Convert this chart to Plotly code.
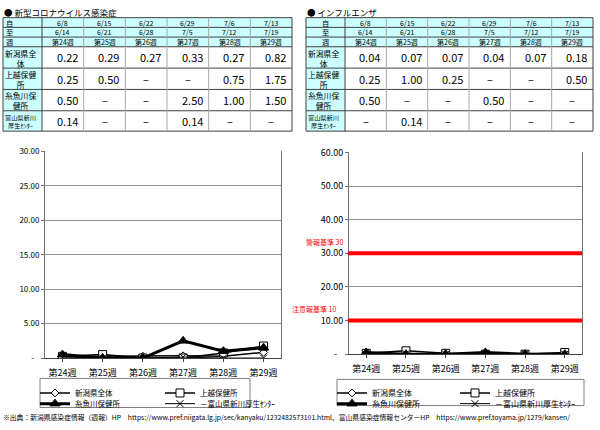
import plotly.graph_objects as go

W, H = 600, 430
FONT = "Noto Sans CJK JP"

# ---------------- data ----------------
weeks = ["第24週", "第25週", "第26週", "第27週", "第28週", "第29週"]
start_dates = ["6/8", "6/15", "6/22", "6/29", "7/6", "7/13"]
end_dates = ["6/14", "6/21", "6/28", "7/5", "7/12", "7/19"]
series_names = ["新潟県全体", "上越保健所", "糸魚川保健所", "富山県新川厚生センター"]
legend_names = ["新潟県全体", "上越保健所", "糸魚川保健所", "－富山県新川厚生ｾﾝﾀｰ"]
row_labels = ["新潟県全<br>体", "上越保健<br>所", "糸魚川保<br>健所", "富山県新川<br>厚生ｾﾝﾀｰ"]

covid_niigata = [0.22, 0.29, 0.27, 0.33, 0.27, 0.82]
covid_joetsu = [0.25, 0.50, None, None, 0.75, 1.75]
covid_itoigawa = [0.50, None, None, 2.50, 1.00, 1.50]
covid_toyama = [0.14, None, None, 0.14, None, None]

flu_niigata = [0.04, 0.07, 0.07, 0.04, 0.07, 0.18]
flu_joetsu = [0.25, 1.00, 0.25, None, None, 0.50]
flu_itoigawa = [0.50, None, None, 0.50, None, None]
flu_toyama = [None, 0.14, None, None, None, None]

flu_warning = 30
flu_advisory = 10

covid_title = "● 新型コロナウイルス感染症"
flu_title = "● インフルエンザ"
source_note = ("※出典：新潟県感染症情報（週報）HP　https://www.pref.niigata.lg.jp/sec/kanyaku/1232482573101.html、"
               "富山県感染症情報センターHP　https://www.pref.toyama.jp/1279/kansen/")

# ---------------- helpers ----------------
def fx(px):
    return px / W

def fy(py):
    return 1 - py / H

shapes = []
annotations = []

def hline(x0, x1, y, color, width=1):
    shapes.append(dict(type="line", xref="paper", yref="paper", x0=fx(x0), x1=fx(x1),
                       y0=fy(y), y1=fy(y), line=dict(color=color, width=width), layer="above"))

def vline(x, y0, y1, color, width=1):
    shapes.append(dict(type="line", xref="paper", yref="paper", x0=fx(x), x1=fx(x),
                       y0=fy(y0), y1=fy(y1), line=dict(color=color, width=width), layer="above"))

def rect(x0, y0, x1, y1, fill, line=None):
    shapes.append(dict(type="rect", xref="paper", yref="paper", x0=fx(x0), x1=fx(x1),
                       y0=fy(y0), y1=fy(y1), fillcolor=fill,
                       line=dict(width=0) if line is None else dict(color=line, width=1),
                       layer="below"))

def text(x, y, s, size, anchor="center", color="black"):
    annotations.append(dict(xref="paper", yref="paper", x=fx(x), y=fy(y), text=s,
                            showarrow=False, xanchor=anchor, yanchor="middle",
                            font=dict(family=FONT, size=size, color=color), borderpad=0))

ROWS = [11, 21, 31, 41, 63, 85, 107, 128]
CYAN = "#CCFFFF"

def draw_table(x0, xl, x1, title, data, head_align):
    ncol = len(weeks)
    cw = (x1 - xl) / ncol
    cols = [xl + i * cw for i in range(ncol + 1)]
    # fills
    rect(x0, ROWS[0], x1, ROWS[3], CYAN)
    rect(x0, ROWS[3], xl, ROWS[-1], CYAN)
    # lines
    for y in ROWS:
        hline(x0, x1, y, "#404040")
    vline(x0, ROWS[0], ROWS[-1], "#404040")
    vline(xl, ROWS[0], ROWS[-1], "#404040")
    for c in cols[1:-1]:
        vline(c, ROWS[0], ROWS[-1], "#A8A8A8")
    vline(x1, ROWS[0], ROWS[-1], "#404040")
    # title
    text(x0, 5, title, 8.5, "left")
    # header rows
    heads = ["自", "至", "週"]
    rowvals = [start_dates, end_dates, weeks]
    for r in range(3):
        yc = (ROWS[r] + ROWS[r + 1]) / 2
        if head_align == "left":
            text(x0 + 2, yc, heads[r], 7.2, "left")
        else:
            text((x0 + xl) / 2, yc, heads[r], 7.2, "center")
        for i in range(ncol):
            text((cols[i] + cols[i + 1]) / 2, yc, rowvals[r][i], 7)
    # data rows
    for r, vals in enumerate(data):
        yc = (ROWS[r + 3] + ROWS[r + 4]) / 2
        text(x0 + 1, yc + 0.8, row_labels[r], 7.8 if r < 3 else 6.2, "left")
        for i, v in enumerate(vals):
            if v is None:
                text((cols[i] + cols[i + 1]) / 2, yc, "–", 11)
            else:
                text(cols[i + 1] - 5, yc, f"{v:.2f}", 11, "right")

covid_data = [covid_niigata, covid_joetsu, covid_itoigawa, covid_toyama]
flu_data = [flu_niigata, flu_joetsu, flu_itoigawa, flu_toyama]

draw_table(3, 42, 292, covid_title, covid_data, "left")
draw_table(306, 345, 593, flu_title, flu_data, "center")

# ---------------- charts ----------------
styles = [
    dict(line=dict(color="black", width=1.5),
         marker=dict(symbol="diamond", size=6, color="white", line=dict(color="black", width=1))),
    dict(line=dict(color="black", width=1.5),
         marker=dict(symbol="square", size=8, color="white", line=dict(color="black", width=1))),
    dict(line=dict(color="black", width=3),
         marker=dict(symbol="triangle-up", size=9, color="black", line=dict(color="black", width=1))),
    dict(line=dict(color="black", width=1),
         marker=dict(symbol="x-thin", size=7, color="black", line=dict(color="black", width=1))),
]

fig = go.Figure()

legend_pos_left = [(35, 398), (160, 398), (35, 409), (160, 409)]
legend_pos_right = [(332, 398), (455, 398), (332, 409), (455, 409)]

lg = 1
for data, xa, ya in [(covid_data, "x", "y"), (flu_data, "x2", "y2")]:
    for k, vals in enumerate(data):
        yv = [0 if v is None else v for v in vals]
        name = "legend" if lg == 1 else f"legend{lg}"
        fig.add_trace(go.Scatter(x=weeks, y=yv, mode="lines+markers", name=legend_names[k],
                                 xaxis=xa, yaxis=ya, legend=name, **styles[k]))
        lg += 1

legends = {}
allpos = legend_pos_left + legend_pos_right
for i, (px, py) in enumerate(allpos):
    key = "legend" if i == 0 else f"legend{i + 1}"
    legends[key] = dict(x=fx(px), y=fy(py), xanchor="left", yanchor="middle",
                        xref="paper", yref="paper", bgcolor="rgba(0,0,0,0)",
                        font=dict(family=FONT, size=7.5 if i < 4 else 8, color="black"),
                        itemwidth=30, tracegroupgap=0)

# legend boxes
rect(40, 383, 250, 413, "rgba(0,0,0,0)", "#808080")
rect(337, 384, 584, 411, "rgba(0,0,0,0)", "#808080")

# reference lines for influenza
for val in [flu_warning, flu_advisory]:
    shapes.append(dict(type="line", xref="x2 domain", yref="y2", x0=-0.005, x1=1,
                       y0=val, y1=val, line=dict(color="#FF0000", width=4), layer="above"))
annotations.append(dict(xref="paper", yref="y2", x=fx(345), y=flu_warning + 3.3,
                        text=f"警報基準 {flu_warning}", showarrow=False, xanchor="right",
                        yanchor="middle", font=dict(family=FONT, size=7, color="#FF0000")))
annotations.append(dict(xref="paper", yref="y2", x=fx(338), y=flu_advisory + 3.5,
                        text=f"注意報基準 {flu_advisory}", showarrow=False, xanchor="right",
                        yanchor="middle", font=dict(family=FONT, size=7, color="#FF0000")))

# footer
text(2, 423, source_note, 6.8, "left")

def yticks(maxv, step):
    vals = list(range(0, maxv + 1, step))
    txt = ["-\u00a0\u00a0\u00a0" if v == 0 else f"{v:.2f}" for v in vals]
    return vals, txt

yv1, yt1 = yticks(30, 5)
yv2, yt2 = yticks(60, 10)

axis_common_x = dict(type="category", showgrid=False, showline=True, linecolor="#404040",
                     linewidth=1, ticks="outside", ticklen=3, tickcolor="#404040",
                     ticklabelstandoff=3,
                     tickfont=dict(family=FONT, size=9, color="black"), fixedrange=True)
axis_common_y = dict(showgrid=True, gridcolor="#909090", gridwidth=1, showline=True,
                     linecolor="#707070", mirror=True, ticks="outside", ticklen=3,
                     tickcolor="#707070", zeroline=False, fixedrange=True)

fig.update_layout(
    width=W, height=H, autosize=False,
    margin=dict(l=0, r=0, t=0, b=0),
    paper_bgcolor="white", plot_bgcolor="white",
    font=dict(family=FONT, color="black"),
    showlegend=True,
    xaxis=dict(domain=[fx(45), fx(281)], anchor="y", **axis_common_x),
    yaxis=dict(domain=[fy(362), fy(149)], anchor="x", range=[0, 30], tickvals=yv1, ticktext=yt1,
               tickfont=dict(family=FONT, size=8, color="black"), **axis_common_y),
    xaxis2=dict(domain=[fx(349), fx(582)], anchor="y2", **axis_common_x),
    yaxis2=dict(domain=[fy(358), fy(150)], anchor="x2", range=[0, 60], tickvals=yv2, ticktext=yt2,
                tickfont=dict(family=FONT, size=9, color="black"), **axis_common_y),
    shapes=shapes,
    annotations=annotations,
    **legends,
)

fig.write_html("out.html")
